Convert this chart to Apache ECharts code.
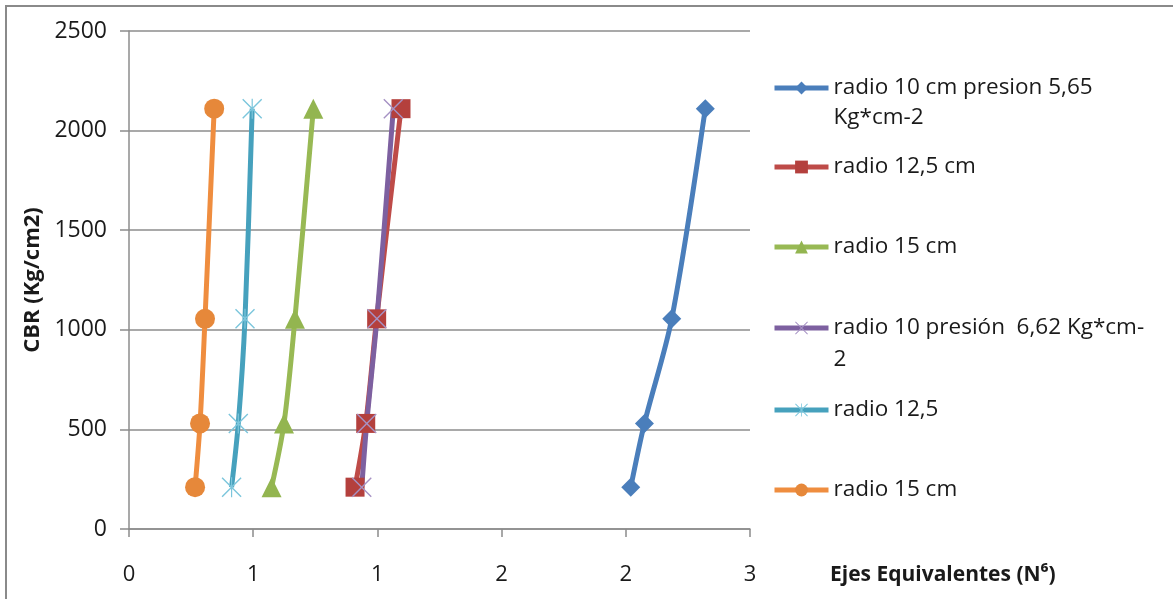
<!DOCTYPE html>
<html>
<head>
<meta charset="utf-8">
<script src="https://cdn.jsdelivr.net/npm/echarts@6/dist/echarts.min.js"></script>
<style>
  html, body { margin: 0; padding: 0; background: #ffffff; }
  #chart { width: 1173px; height: 599px; }
</style>
</head>
<body>
<div id="chart"></div>
<script>
// CBR levels shared by every curve
const cbrValues = [210, 530, 1055, 2110];

// Equivalent axles (N^6) for each configuration
const radio10p565 = [2.02, 2.075, 2.185, 2.32];
const radio125p565 = [0.91, 0.953, 0.997, 1.095];
const radio15p565 = [0.574, 0.624, 0.668, 0.742];
const radio10p662 = [0.937, 0.957, 0.998, 1.064];
const radio125p662 = [0.413, 0.44, 0.467, 0.496];
const radio15p662 = [0.266, 0.286, 0.306, 0.343];

// Tick labels of the horizontal axis (integers, as the axis format rounds them)
const xTickLabels = ['0', '1', '1', '2', '2', '3'];
const yTickLabels = ['0', '500', '1000', '1500', '2000', '2500'];

const FONT = 'Open Sans';

// thin "x" and asterisk markers
const xPath = 'path://M1,0 L10,9 L19,0 L20,1 L11,10 L20,19 L19,20 L10,11 L1,20 L0,19 L9,10 L0,1 Z';
const starPath = 'path://M1,0 L10,9 L19,0 L20,1 L11,10 L20,19 L19,20 L10,11 L1,20 L0,19 L9,10 L0,1 Z M9.4,0 L10.6,0 L10.6,20 L9.4,20 Z';

function pairs(xs) {
  return xs.map((x, i) => [x, cbrValues[i]]);
}

const seriesDefs = [
  { name: 'radio 10 cm presion 5,65 Kg*cm-2', data: radio10p565, line: '#4a7ebb', fill: '#4a7ebb', symbol: 'diamond', size: 19,
    label: 'radio 10 cm presion 5,65\nKg*cm-2', legendY: 88, lines: 2, lh: 30 },
  { name: 'radio 12,5 cm', data: radio125p565, line: '#be4b48', fill: '#b4403d', symbol: 'rect', size: 19,
    label: 'radio 12,5 cm', legendY: 167, lines: 1 },
  { name: 'radio 15 cm', data: radio15p565, line: '#98b954', fill: '#93b550', symbol: 'triangle', size: 20,
    label: 'radio 15 cm', legendY: 247, lines: 1 },
  { name: 'radio 10 presión 6,62 Kg*cm-2', data: radio10p662, line: '#7d60a0', fill: '#a692c4', symbol: xPath, size: 20,
    label: 'radio 10 presión  6,62 Kg*cm-\n2', legendY: 328, lines: 2, lh: 32 },
  { name: 'radio 12,5', data: radio125p662, line: '#46a1bd', fill: '#7cc6dc', symbol: starPath, size: 20,
    label: 'radio 12,5', legendY: 410, lines: 1 },
  { name: 'radio 15 cm (6,62)', data: radio15p662, line: '#ef8d3f', fill: '#e6883a', symbol: 'circle', size: 20,
    label: 'radio 15 cm', legendY: 490, lines: 1 }
];

const series = seriesDefs.map(d => ({
  name: d.name,
  type: 'line',
  data: pairs(d.data),
  smooth: 0.3,
  symbol: d.symbol,
  symbolSize: d.size,
  showAllSymbol: true,
  lineStyle: { color: d.line, width: 5 },
  itemStyle: { color: d.fill, borderWidth: 0 },
  emphasis: { disabled: true },
  z: 3
}));

// one legend block per series; two-line entries get a blank leading line so
// the icon sits level with the first line of text
const legends = seriesDefs.map(d => {
  const lh = d.lh || 26;
  let top, text;
  if (d.lines === 2) {
    text = '\n' + d.label;
    top = d.legendY - (3 * lh) / 2;
  } else {
    text = d.label;
    top = d.legendY - lh / 2;
  }
  return {
    data: [d.name],
    left: 772,
    top: top,
    padding: 0,
    itemWidth: 54,
    itemHeight: 16,
    itemGap: 0,
    selectedMode: false,
    formatter: text,
    lineStyle: { width: 5 },
    textStyle: { fontFamily: FONT, fontSize: 22.5, color: '#1a1a1a', lineHeight: lh }
  };
});

const chart = echarts.init(document.getElementById('chart'), null, { renderer: 'canvas' });

chart.setOption({
  backgroundColor: '#ffffff',
  animation: false,
  grid: { left: 129, top: 31, right: 423, bottom: 70, containLabel: false },
  graphic: [{
    type: 'rect',
    shape: { x: 6, y: 6, width: 1220, height: 700 },
    style: { fill: 'none', stroke: '#8a8a8a', lineWidth: 2 },
    silent: true,
    z: -1
  }],
  title: {
    text: 'Ejes Equivalentes (N⁶)',
    left: 830,
    top: 565,
    padding: 0,
    textStyle: { fontFamily: FONT, fontSize: 21, fontWeight: 'bold', color: '#1a1a1a' }
  },
  legend: legends,
  xAxis: {
    type: 'value',
    min: 0,
    max: 2.5,
    interval: 0.5,
    axisLine: { show: true, onZero: false, lineStyle: { color: '#8c8c8c', width: 1.5 } },
    axisTick: { show: true, inside: false, length: 8, lineStyle: { color: '#8c8c8c', width: 1.5 } },
    axisLabel: {
      margin: 35,
      fontFamily: FONT, fontSize: 22, color: '#1a1a1a',
      formatter: v => xTickLabels[Math.round(v / 0.5)]
    },
    splitLine: { show: false }
  },
  yAxis: {
    type: 'value',
    min: 0,
    max: 2500,
    interval: 500,
    name: 'CBR (Kg/cm2)',
    nameLocation: 'middle',
    nameGap: 84,
    nameTextStyle: { fontFamily: FONT, fontSize: 22, fontWeight: 'bold', color: '#1a1a1a' },
    axisLine: { show: true, lineStyle: { color: '#8c8c8c', width: 1.5 } },
    axisTick: { show: true, inside: false, length: 9, lineStyle: { color: '#8c8c8c', width: 1.5 } },
    axisLabel: {
      margin: 22,
      fontFamily: FONT, fontSize: 23, color: '#1a1a1a',
      formatter: v => yTickLabels[Math.round(v / 500)]
    },
    splitLine: { show: true, lineStyle: { color: '#8c8c8c', width: 1.5 } }
  },
  series: series
});
</script>
</body>
</html>
